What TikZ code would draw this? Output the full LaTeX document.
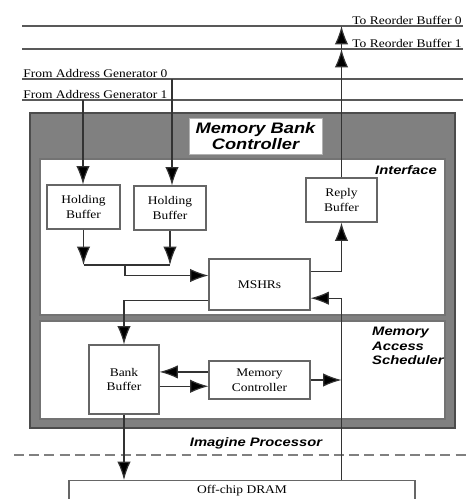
\documentclass[tikz,border=0pt]{standalone}
\usepackage{fontspec}
\setmainfont[FakeStretch=1.15]{Liberation Serif}
\setsansfont[FakeStretch=1.2]{Liberation Sans}
\usetikzlibrary{arrows.meta}

\begin{document}
\begin{tikzpicture}[x=0.03cm, y=-0.03cm,
        line/.style={draw=black!80, line width=1pt},
        arr/.style={line, -{Latex[length=5.5mm, width=4mm, fill=black]}},
        bus/.style={draw=black!65, line width=1.4pt},
        buf/.style={draw=black!60, line width=0.9pt, fill=white, align=center, inner sep=0pt, font=\fontsize{10}{12.5}\selectfont},
        lbl/.style={inner sep=1pt, font=\fontsize{10}{12}\selectfont},
        tag/.style={inner sep=0pt, align=left, font=\sffamily\bfseries\itshape\fontsize{10.5}{12.5}\selectfont},
        panel/.style={draw=black!55, line width=1pt, fill=white}]
            \clip (0, 0) rectangle (467, 499);
            \fill[white] (0, 0) rectangle (467, 499);
            \draw (242.5, 270.5) node[draw=black!70, line width=1.4pt, fill=black!50, minimum width=12.75cm, minimum height=9.45cm](mbc){};
            \draw (242.5, 237) node[panel, minimum width=12.15cm, minimum height=4.68cm](iface){};
            \draw (242.5, 370) node[panel, minimum width=12.15cm, minimum height=2.94cm](mas){};
            \draw (255.5, 136) node[draw=black!30, fill=white, minimum width=3.99cm, minimum height=1.08cm, align=center, inner sep=0pt, font=\sffamily\bfseries\itshape\fontsize{13}{13}\selectfont](title){Memory Bank\\Controller};
            \draw (437, 170) node[tag, anchor=east](ifacelbl){Interface};
            \draw (372, 346) node[tag, anchor=west](maslbl){Memory\\Access\\Scheduler};
            \draw (256, 443) node[tag](iplbl){Imagine Processor};
            \coordinate (r0w) at (22, 26);
            \coordinate (r0e) at (463, 26);
            \coordinate (r1w) at (22, 49);
            \coordinate (r1e) at (463, 49);
            \coordinate (g0w) at (22, 79);
            \coordinate (g0e) at (463, 79);
            \coordinate (g1w) at (22, 100);
            \coordinate (g1e) at (463, 100);
            \draw[bus] (r0w) -- (r0e);
            \draw[bus] (r1w) -- (r1e);
            \draw[bus] (g0w) -- (g0e);
            \draw[bus] (g1w) -- (g1e);
            \draw (r0e) node[lbl, anchor=south east](tor0){To Reorder Buffer 0};
            \draw (r1e) node[lbl, anchor=south east](tor1){To Reorder Buffer 1};
            \draw (g0w) node[lbl, anchor=south west](fag0){From Address Generator 0};
            \draw (g1w) node[lbl, anchor=south west](fag1){From Address Generator 1};
            \coordinate (g0t) at (172, 79);
            \coordinate (g1t) at (83, 100);
            \draw (83.5, 207) node[buf, minimum width=2.19cm, minimum height=1.32cm](hb1){Holding\\Buffer};
            \draw (170, 208) node[buf, minimum width=2.16cm, minimum height=1.32cm](hb2){Holding\\Buffer};
            \draw (341.5, 200) node[buf, minimum width=2.13cm, minimum height=1.32cm](rb){Reply\\Buffer};
            \draw (259.5, 284.5) node[buf, minimum width=3.03cm, minimum height=1.53cm](mshr){MSHRs};
            \draw (124, 379.5) node[buf, minimum width=2.1cm, minimum height=2.07cm](bb){Bank\\Buffer};
            \draw (259.5, 380) node[buf, minimum width=3.03cm, minimum height=1.14cm](mc){Memory\\Controller};
            \draw (242, 480) node[buf, anchor=north, minimum width=10.38cm, text depth=0.5cm, inner ysep=4pt](dram){Off-chip DRAM};
            \coordinate (join) at (125, 265);
            \coordinate (cw) at (14, 455);
            \coordinate (ce) at (467, 455);
            \draw[draw=black!50, line width=1.3pt, dash pattern=on 8.5pt off 4.5pt] (cw) -- (ce);
            \draw[arr] (g1t) -- (g1t |- hb1.north);
            \draw[arr] (g0t) -- (g0t |- hb2.north);
            \draw[arr] (hb1.south) -- (hb1.south |- join);
            \draw[arr] (hb2.south) -- (hb2.south |- join);
            \draw[line] (hb1.south |- join) -- (hb2.south |- join);
            \draw[arr] (join) |- (mshr.170);
            \draw[arr] (mshr.14) -| (rb.south);
            \draw[arr] (rb.north) -- (rb.north |- r1e);
            \draw[arr] (rb.north |- r1e) -- (rb.north |- r0e);
            \draw[arr] (dram.north -| rb) |- (mshr.-15);
            \draw[arr] (mshr.197) -| (bb.north);
            \draw[arr] (mc.171) -- (mc.171 -| bb.east);
            \draw[arr] (mc.187 -| bb.east) -- (mc.187);
            \draw[arr] (mc.east) -- (mc.east -| rb);
            \draw[arr] (bb.south) -- (bb.south |- dram.north);
        \end{tikzpicture}
\end{document}
